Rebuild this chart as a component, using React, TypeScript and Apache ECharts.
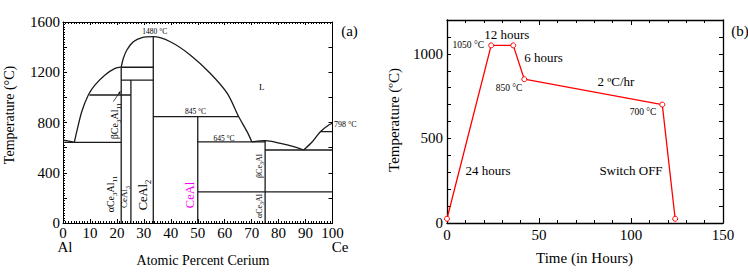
import React, { useEffect, useRef } from "react";
import * as echarts from "echarts";

// ---------- Panel (a): Al–Ce phase diagram ----------
const atomicTicks = [0, 10, 20, 30, 40, 50, 60, 70, 80, 90, 100];
const tempTicksA = [0, 400, 800, 1200, 1600];

// liquidus curves [at.% Ce, °C]
const alEutecticCurve = [[0, 660], [2.2, 652], [4.2, 642]];
const ce3al11Liquidus = [[4.2, 642], [5.1, 727], [6.95, 886], [9.4, 1019], [11.9, 1099], [15.6, 1178], [19.3, 1231], [21.6, 1240]];
const ceAl2Liquidus = [[21.6, 1240], [22.4, 1311], [23.7, 1377], [26.1, 1443], [29.3, 1476], [33.5, 1483], [39.8, 1443], [47.2, 1338], [54.6, 1192], [60.9, 1033], [65.2, 846], [68.3, 727], [70.1, 645]];
const ce3alLiquidus = [[70.1, 645], [75, 656], [80.7, 634], [85.6, 608], [89.3, 581]];
const ceLiquidus = [[89.3, 581], [92.5, 647], [95.5, 727], [98.6, 780], [100, 794]];

// straight phase boundaries (isotherms and compound lines)
const phaseBoundaries = [
  [[0, 642], [21.6, 642]],
  [[9.8, 1019], [25.2, 1019]],
  [[21.6, 1240], [33.5, 1240]],
  [[21.6, 1138], [33.5, 1138]],
  [[21.6, 0], [21.6, 1240]],
  [[25.2, 0], [25.2, 1138]],
  [[33.5, 0], [33.5, 1483]],
  [[33.5, 846], [65.2, 846]],
  [[50, 0], [50, 846]],
  [[50, 645], [75, 645]],
  [[75, 0], [75, 656]],
  [[75, 581], [100, 581]],
  [[95.5, 727], [100, 727]],
  [[50, 247], [100, 247]],
];

// ---------- Panel (b): heat-treatment profile ----------
const timeHours = [0, 24, 36, 42, 117, 124];
const furnaceTemp = [25, 1050, 1050, 850, 700, 25];
const timeTicks = [0, 50, 100, 150];
const tempTicksB = [0, 500, 1000];

const SERIF = "Liberation Serif";
const BLACK = "#000";

function txt(x: number, y: number, text: string, size: number, opts: any = {}) {
  return {
    type: "text",
    x,
    y,
    rotation: opts.rotation || 0,
    silent: true,
    style: {
      text,
      fill: opts.color || BLACK,
      fontSize: size,
      fontFamily: SERIF,
      align: opts.align || "center",
      verticalAlign: "middle",
      rich: opts.rich,
    },
  };
}

function subRich(main: number, sub: number, drop: number) {
  return {
    m: { fontSize: main, fontFamily: SERIF, fill: BLACK, padding: [0, 0, drop, 0], verticalAlign: "top" },
    s: { fontSize: sub, fontFamily: SERIF, fill: BLACK, verticalAlign: "bottom" },
  };
}

export default function App() {
  const ref = useRef<HTMLDivElement>(null);
  useEffect(() => {
    if (!ref.current) return;
    const chart = echarts.init(ref.current, undefined, { renderer: "svg" });

    const axisLine = { show: true, onZero: false, lineStyle: { color: BLACK, width: 1 } };
    const labelStyle = (margin: number) => ({ color: BLACK, fontSize: 15, fontFamily: SERIF, margin });

    const lineSeg = (data: number[][], smooth: number | boolean = false) => ({
      type: "line",
      xAxisIndex: 0,
      yAxisIndex: 0,
      data,
      smooth,
      showSymbol: false,
      symbol: "none",
      silent: true,
      lineStyle: { color: "#1a1a1a", width: 1.3 },
    });

    const option: any = {
      animation: false,
      textStyle: { fontFamily: SERIF },
      grid: [
        { left: 63, top: 22, width: 269.5, height: 201 },
        { left: 447, top: 20, width: 276, height: 203 },
      ],
      xAxis: [
        {
          gridIndex: 0, type: "value", min: 0, max: 100, interval: 10, position: "bottom",
          axisLine, splitLine: { show: false },
          axisTick: { inside: true, length: 4, lineStyle: { color: BLACK } },
          minorTick: { show: true, splitNumber: 10, length: 2, lineStyle: { color: BLACK } },
          axisLabel: { ...labelStyle(2), formatter: (v: number) => (atomicTicks.includes(v) ? String(v) : "") },
        },
        {
          gridIndex: 0, type: "value", min: 0, max: 100, interval: 10, position: "top",
          axisLine, splitLine: { show: false },
          axisTick: { inside: true, length: 3, lineStyle: { color: BLACK } },
          minorTick: { show: true, splitNumber: 10, length: 2, lineStyle: { color: BLACK } },
          axisLabel: { show: false },
        },
        {
          gridIndex: 1, type: "value", min: 0, max: 150, interval: 50, position: "bottom",
          axisLine: { ...axisLine, lineStyle: { color: BLACK, width: 1.3 } }, splitLine: { show: false },
          axisTick: { inside: true, length: 5, lineStyle: { color: BLACK } },
          minorTick: { show: true, splitNumber: 5, length: 3, lineStyle: { color: BLACK } },
          axisLabel: { ...labelStyle(4), formatter: (v: number) => (timeTicks.includes(v) ? String(v) : "") },
        },
        {
          gridIndex: 1, type: "value", min: 0, max: 150, interval: 50, position: "top",
          axisLine: { ...axisLine, lineStyle: { color: BLACK, width: 1.3 } }, splitLine: { show: false },
          axisTick: { inside: true, length: 5, lineStyle: { color: BLACK } },
          minorTick: { show: true, splitNumber: 5, length: 3, lineStyle: { color: BLACK } },
          axisLabel: { show: false },
        },
      ],
      yAxis: [
        {
          gridIndex: 0, type: "value", min: 0, max: 1600, interval: 200, position: "left",
          axisLine, splitLine: { show: false },
          axisTick: { inside: true, length: 4, lineStyle: { color: BLACK } },
          minorTick: { show: true, splitNumber: 10, length: 2, lineStyle: { color: BLACK } },
          axisLabel: { ...labelStyle(3), formatter: (v: number) => (tempTicksA.includes(v) ? String(v) : "") },
        },
        {
          gridIndex: 0, type: "value", min: 0, max: 1600, interval: 200, position: "right",
          axisLine, splitLine: { show: false },
          axisTick: { inside: true, length: 4, lineStyle: { color: BLACK } },
          axisLabel: { show: false },
        },
        {
          gridIndex: 1, type: "value", min: 0, max: 1200, interval: 100, position: "left",
          axisLine: { ...axisLine, lineStyle: { color: BLACK, width: 1.3 } }, splitLine: { show: false },
          axisTick: { inside: true, length: 4, lineStyle: { color: BLACK } },
          axisLabel: { ...labelStyle(4), formatter: (v: number) => (tempTicksB.includes(v) ? String(v) : "") },
        },
        {
          gridIndex: 1, type: "value", min: 0, max: 1200, interval: 100, position: "right",
          axisLine: { ...axisLine, lineStyle: { color: BLACK, width: 1.3 } }, splitLine: { show: false },
          axisTick: { inside: true, length: 4, lineStyle: { color: BLACK } },
          axisLabel: { show: false },
        },
      ],
      series: [
        lineSeg(alEutecticCurve, 0.3),
        lineSeg(ce3al11Liquidus, 0.3),
        lineSeg(ceAl2Liquidus, 0.3),
        lineSeg(ce3alLiquidus, 0.3),
        lineSeg(ceLiquidus, 0.3),
        ...phaseBoundaries.map((s) => lineSeg(s)),
        {
          type: "line",
          xAxisIndex: 2,
          yAxisIndex: 2,
          data: timeHours.map((t, i) => [t, furnaceTemp[i]]),
          symbol: "circle",
          symbolSize: 5,
          showSymbol: true,
          lineStyle: { color: "#ff0000", width: 1.3 },
          itemStyle: { color: "#fff", borderColor: "#ff0000", borderWidth: 1 },
        },
      ],
      graphic: [
        // panel (a) texts
        txt(9, 115, "Temperature (°C)", 14, { rotation: Math.PI / 2 }),
        txt(203, 260, "Atomic Percent Cerium", 14),
        txt(65, 247, "Al", 15),
        txt(340, 247, "Ce", 15),
        txt(349.5, 31, "(a)", 15),
        txt(154.7, 31, "1480 °C", 7.5),
        txt(195.5, 111, "845 °C", 7.5),
        txt(224, 138.3, "645 °C", 7.5),
        txt(334, 124.7, "798 °C", 8, { align: "left" }),
        txt(261.7, 87, "L", 9),
        txt(115.7, 121, "{m|βCe}{s|3}{m|Al}{s|11}", 10, { rotation: Math.PI / 2, rich: subRich(10, 7, 3) }),
        txt(111.7, 194, "{m|αCe}{s|3}{m|Al}{s|11}", 10, { rotation: Math.PI / 2, rich: subRich(10, 7, 3) }),
        txt(125, 197, "{m|CeAl}{s|3}", 9, { rotation: Math.PI / 2, rich: subRich(9, 6, 3) }),
        txt(144.3, 195, "{m|CeAl}{s|2}", 12.5, { rotation: Math.PI / 2, rich: subRich(12.5, 8.5, 3) }),
        txt(190, 195, "CeAl", 12.5, { rotation: Math.PI / 2, color: "#ff00ff" }),
        txt(260, 166, "{m|βCe}{s|3}{m|Al}", 8, { rotation: Math.PI / 2, rich: subRich(8, 6, 2) }),
        txt(260, 206, "{m|αCe}{s|3}{m|Al}", 8, { rotation: Math.PI / 2, rich: subRich(8, 6, 2) }),
        {
          type: "line", silent: true,
          shape: { x1: 113.3, y1: 101.7, x2: 119.5, y2: 92.5 },
          style: { stroke: "#1a1a1a", lineWidth: 0.8 },
        },
        {
          type: "polygon", silent: true,
          shape: { points: [[120.6, 90.5], [117.9, 93.3], [120.3, 94.3]] },
          style: { fill: "#1a1a1a" },
        },
        // panel (b) texts
        txt(394, 120, "Temperature (ºC)", 15, { rotation: Math.PI / 2 }),
        txt(584.5, 258, "Time (in Hours)", 15),
        txt(740, 31, "(b)", 15),
        txt(506.7, 34, "12 hours", 13),
        txt(468.3, 45, "1050 °C", 9.5),
        txt(543.5, 57, "6 hours", 13),
        txt(509, 88, "850 °C", 9.5),
        txt(616, 81, "2 ºC/hr", 13),
        txt(643, 112, "700 °C", 9.5),
        txt(488, 170, "24 hours", 13),
        txt(631, 170, "Switch OFF", 13),
      ],
    };
    chart.setOption(option);
    return () => chart.dispose();
  }, []);

  return (
    <div
      ref={ref}
      style={{ position: "absolute", left: 0, top: 0, width: 748, height: 273, background: "#fff" }}
    />
  );
}
